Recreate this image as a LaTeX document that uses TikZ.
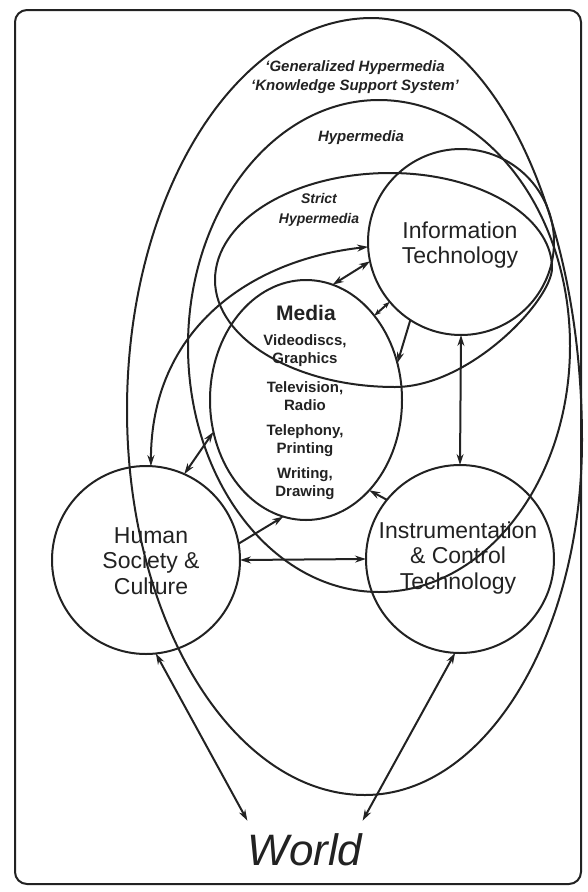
\documentclass[tikz,border=0pt]{standalone}
\usepackage{fontspec}
\setmainfont{Liberation Sans}
\usetikzlibrary{shapes.geometric,arrows.meta}
\definecolor{ink}{HTML}{222222}
\begin{document}
\begin{tikzpicture}[x=1pt,y=-1pt,
  ln/.style={line width=2pt, draw=ink},
  blob/.style={ln, inner sep=0pt, outer sep=0pt},
  arr/.style={ln, -{Stealth[length=11pt,width=7pt]}},
  darr/.style={ln, {Stealth[length=11pt,width=7pt]}-{Stealth[length=11pt,width=7pt]}},
  sdarr/.style={ln, {Stealth[length=7pt,width=5pt]}-{Stealth[length=7pt,width=5pt]}},
  lbl/.style={text=ink, align=center, inner sep=0pt, font=\bfseries\itshape\fontsize{15}{19}\selectfont},
  big/.style={text=ink, align=center, inner sep=0pt, font=\fontsize{23}{25.5}\selectfont},
  item/.style={text=ink, align=center, inner sep=0pt, font=\bfseries\fontsize{15}{18}\selectfont}]
\useasboundingbox (0,0) rectangle (587,892);
% frame
\draw[ln, rounded corners=12pt] (15,10) rectangle (581,884);
% Generalized hypermedia region
\draw[ln] (372,18) .. controls (488,18) and (582,207) .. (582,440)
  .. controls (582,636) and (485,795) .. (365,795)
  .. controls (234,795) and (127,622) .. (127,410)
  .. controls (127,194) and (237,18) .. (372,18) -- cycle;
% Hypermedia region
\draw[ln] (379,346) ellipse [x radius=191pt, y radius=246pt];
% Strict hypermedia region
\draw[ln] (390,173) .. controls (479,173) and (552,216) .. (552,268)
  .. controls (552,300) and (470,387) .. (395,387)
  .. controls (296,387) and (215,339) .. (215,280)
  .. controls (215,221) and (293,173) .. (390,173) -- cycle;
% main nodes
\node[blob, circle, draw, minimum size=186pt] (it) at (461,242) {};
\node[blob, ellipse, draw, minimum width=192pt, minimum height=240pt] (media) at (306,400) {};
\node[blob, circle, draw, minimum size=188pt] (human) at (146,560) {};
\node[blob, circle, draw, minimum size=188pt] (instr) at (460,559) {};
\node[text=ink, inner xsep=0pt, inner ysep=13pt, font=\itshape\fontsize{44}{44}\selectfont] (world) at (305,850) {World};
% labels
\node[lbl] (tgen) at (355,77) {‘Generalized Hypermedia\\‘Knowledge Support System’};
\node[lbl] (thyp) at (361,138) {Hypermedia};
\node[lbl, font=\bfseries\itshape\fontsize{14}{20}\selectfont] (tstr) at (319,210) {Strict\\Hypermedia};
\node[big] (tit) at (460,245) {Information\\Technology};
\node[text=ink, inner sep=0pt, font=\bfseries\fontsize{21}{21}\selectfont] (tmed) at (306,313) {Media};
\node[item] (m1) at (305,351) {Videodiscs,\\Graphics};
\node[item] (m2) at (305,396) {Television,\\Radio};
\node[item] (m3) at (305,441) {Telephony,\\Printing};
\node[item] (m4) at (305,484) {Writing,\\Drawing};
\node[big] (thum) at (151,561) {Human\\Society \&\\Culture};
\node[big] (tins) at (458,558) {Instrumentation\\\& Control\\Technology};
% connectors
\draw[darr] (human.87) .. controls +(0,-137) and +(-118,13) .. (it.183);
\draw[darr] (media.77) -- (it.192);
\draw[sdarr] (media.51) -- (it.220);
\draw[arr] (it.237) -- (media.22);
\draw[darr] (it.south) -- (instr.north);
\draw[darr] (human.east) -- (instr.west);
\draw[arr] (human.10) -- (media.259);
\draw[arr] (instr.141) -- (media.305);
\draw[darr] (media.199) -- (human.66);
\draw[darr] (human.-84) -- (world.north west);
\draw[darr] (instr.-93) -- (world.north east);
\end{tikzpicture}
\end{document}
